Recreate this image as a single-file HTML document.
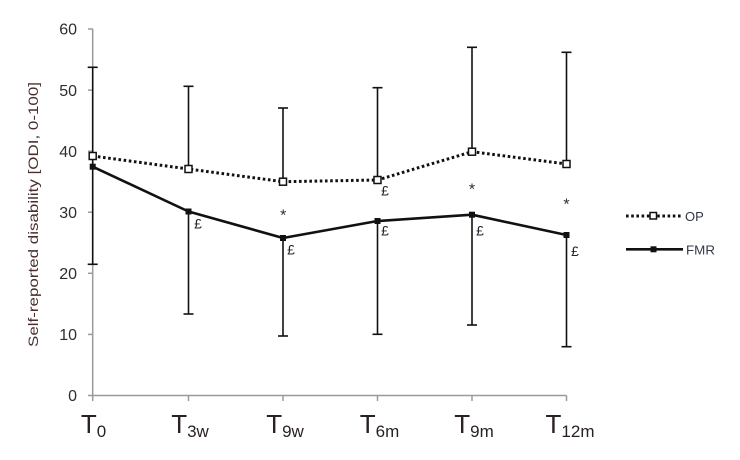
<!DOCTYPE html>
<html><head><meta charset="utf-8"><style>
html,body{margin:0;padding:0;background:#fff;}
svg{display:block;}
text{font-family:"Liberation Sans",Arial,sans-serif;}
</style></head><body>
<svg width="740" height="460" viewBox="0 0 740 460" xmlns="http://www.w3.org/2000/svg">
<rect width="740" height="460" fill="#fff"/>
<!-- axes -->
<g stroke="#9a9a9a" stroke-width="1.5" fill="none">
<line x1="92.7" y1="29" x2="92.7" y2="395.5"/>
<line x1="92.7" y1="395.5" x2="566.5" y2="395.5"/>
<line x1="88" y1="29" x2="93" y2="29"/>
<line x1="88" y1="90.1" x2="93" y2="90.1"/>
<line x1="88" y1="151.2" x2="93" y2="151.2"/>
<line x1="88" y1="212.2" x2="93" y2="212.2"/>
<line x1="88" y1="273.3" x2="93" y2="273.3"/>
<line x1="88" y1="334.4" x2="93" y2="334.4"/>
<line x1="88" y1="395.5" x2="93" y2="395.5"/>
<line x1="92.7" y1="395.5" x2="92.7" y2="401"/>
<line x1="188.5" y1="395.5" x2="188.5" y2="401"/>
<line x1="283" y1="395.5" x2="283" y2="401"/>
<line x1="377.5" y1="395.5" x2="377.5" y2="401"/>
<line x1="472" y1="395.5" x2="472" y2="401"/>
<line x1="566.5" y1="395.5" x2="566.5" y2="401"/>
</g>
<!-- y tick labels -->
<g font-size="16" fill="#2e2e2e" text-anchor="end">
<text x="77" y="34.7">60</text>
<text x="77" y="95.8">50</text>
<text x="77" y="156.9">40</text>
<text x="77" y="217.9">30</text>
<text x="77" y="279">20</text>
<text x="77" y="340.1">10</text>
<text x="77" y="401.2">0</text>
</g>
<!-- y label -->
<text transform="translate(38,214.5) rotate(-90)" font-size="14" fill="#4a2e2e" text-anchor="middle" textLength="265" lengthAdjust="spacingAndGlyphs">Self-reported disability [ODI, 0-100]</text>
<!-- x labels -->
<g fill="#2a2222" text-anchor="middle">
<text x="93.5" y="433" font-size="26">T<tspan font-size="17" dy="4">0</tspan></text>
<text x="190" y="433" font-size="26">T<tspan font-size="17" dy="4">3w</tspan></text>
<text x="285" y="433" font-size="26">T<tspan font-size="17" dy="4">9w</tspan></text>
<text x="379.5" y="433" font-size="26">T<tspan font-size="17" dy="4">6m</tspan></text>
<text x="474" y="433" font-size="26">T<tspan font-size="17" dy="4">9m</tspan></text>
<text x="570" y="433" font-size="26">T<tspan font-size="17" dy="4">12m</tspan></text>
</g>
<!-- error bars: OP upward, FMR downward -->
<g stroke="#111" stroke-width="1.6" fill="none">
<line x1="92.7" y1="67.3" x2="92.7" y2="264.3"/>
<line x1="87.7" y1="67.3" x2="97.7" y2="67.3"/>
<line x1="87.7" y1="264.3" x2="97.7" y2="264.3"/>
<line x1="188.5" y1="86.3" x2="188.5" y2="169"/>
<line x1="188.5" y1="211.5" x2="188.5" y2="314"/>
<line x1="183.5" y1="86.3" x2="193.5" y2="86.3"/>
<line x1="183.5" y1="314" x2="193.5" y2="314"/>
<line x1="283" y1="108" x2="283" y2="181.7"/>
<line x1="283" y1="238" x2="283" y2="336"/>
<line x1="278" y1="108" x2="288" y2="108"/>
<line x1="278" y1="336" x2="288" y2="336"/>
<line x1="377.5" y1="87.7" x2="377.5" y2="180"/>
<line x1="377.5" y1="221" x2="377.5" y2="334.3"/>
<line x1="372.5" y1="87.7" x2="382.5" y2="87.7"/>
<line x1="372.5" y1="334.3" x2="382.5" y2="334.3"/>
<line x1="472" y1="47.3" x2="472" y2="151.7"/>
<line x1="472" y1="214.7" x2="472" y2="325"/>
<line x1="467" y1="47.3" x2="477" y2="47.3"/>
<line x1="467" y1="325" x2="477" y2="325"/>
<line x1="566.5" y1="52.3" x2="566.5" y2="164"/>
<line x1="566.5" y1="235" x2="566.5" y2="346.7"/>
<line x1="561.5" y1="52.3" x2="571.5" y2="52.3"/>
<line x1="561.5" y1="346.7" x2="571.5" y2="346.7"/>
</g>
<!-- OP dotted line -->
<polyline points="92.7,156 188.5,169 283,181.7 377.5,180 472,151.7 566.5,164" fill="none" stroke="#111" stroke-width="3" stroke-dasharray="2.6 2.6"/>
<!-- FMR solid -->
<polyline points="92.7,166.7 188.5,211.5 283,238 377.5,221 472,214.7 566.5,235" fill="none" stroke="#111" stroke-width="2.6" stroke-linejoin="round"/>
<!-- OP markers -->
<g fill="#fff" stroke="#111" stroke-width="1.5">
<rect x="89.2" y="152.5" width="7" height="7"/>
<rect x="185" y="165.5" width="7" height="7"/>
<rect x="279.5" y="178.2" width="7" height="7"/>
<rect x="374" y="176.5" width="7" height="7"/>
<rect x="468.5" y="148.2" width="7" height="7"/>
<rect x="563" y="160.5" width="7" height="7"/>
</g>
<!-- FMR markers -->
<g fill="#111">
<rect x="89.7" y="163.7" width="6" height="6"/>
<rect x="185.5" y="208.5" width="6" height="6"/>
<rect x="280" y="235" width="6" height="6"/>
<rect x="374.5" y="218" width="6" height="6"/>
<rect x="469" y="211.7" width="6" height="6"/>
<rect x="563.5" y="232" width="6" height="6"/>
</g>
<!-- pound signs -->
<g font-size="14" fill="#2a2230" text-anchor="middle">
<text x="198" y="228.5">£</text>
<text x="385" y="195.5">£</text>
<text x="291" y="254.5">£</text>
<text x="385" y="235.5">£</text>
<text x="480" y="235.5">£</text>
<text x="575" y="256">£</text>
</g>
<!-- asterisks -->
<g font-size="16" fill="#2e2838" text-anchor="middle">
<text x="283.3" y="220.5">*</text>
<text x="472" y="194.5">*</text>
<text x="566.5" y="209.5">*</text>
</g>
<!-- legend -->
<line x1="626" y1="216" x2="683" y2="216" stroke="#111" stroke-width="3" stroke-dasharray="2.6 2.6"/>
<rect x="650" y="212.5" width="6.5" height="6.5" fill="#fff" stroke="#111" stroke-width="1.5"/>
<line x1="626" y1="249.3" x2="683" y2="249.3" stroke="#111" stroke-width="2.6"/>
<rect x="650.5" y="246.3" width="6" height="6" fill="#111"/>
<text x="685" y="221" font-size="13" fill="#333845">OP</text>
<text x="686" y="254.3" font-size="13" fill="#333845" textLength="29" lengthAdjust="spacingAndGlyphs">FMR</text>
</svg>
</body></html>
